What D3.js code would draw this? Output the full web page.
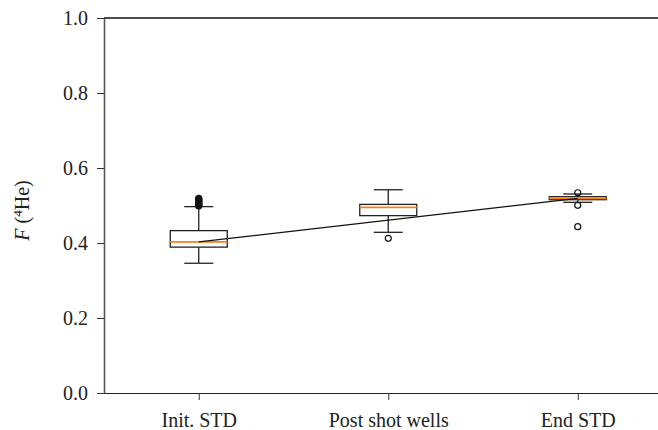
<!DOCTYPE html>
<html>
<head>
<meta charset="utf-8">
<script src="https://cdn.jsdelivr.net/npm/d3@7"></script>
<style>
  body { margin: 0; background: #fff; }
  text { font-family: "Liberation Serif", "DejaVu Serif", serif; }
</style>
</head>
<body>
<div id="chart-area"></div>
<script>
// groups on the x axis
const groups = ["Init. STD", "Post shot wells", "End STD"]
// box stats
const q1 = [0.389, 0.473, 0.5155]
const medians = [0.403, 0.495, 0.519]
const q3 = [0.433, 0.503, 0.5235]
const whiskLow = [0.346, 0.4285, 0.5085]
const whiskHigh = [0.497, 0.542, 0.5307]
const fliers = [
  [0.499, 0.501, 0.503, 0.505, 0.507, 0.509, 0.511, 0.513, 0.515, 0.517, 0.519],
  [0.4125],
  [0.534, 0.5005, 0.4435]
]
// trend line between first and last group
const trendGroups = ["Init. STD", "End STD"]
const trendValues = [0.403, 0.519]
const yTicks = [0, 0.2, 0.4, 0.6, 0.8, 1.0]

const W = 658, H = 430
const margin = { top: 18, right: 0, bottom: 37, left: 104 }
const width = W - margin.left - margin.right,
      height = H - margin.top - margin.bottom

const svg = d3.select("#chart-area").append("svg")
    .attr("width", W)
    .attr("height", H)

const g = svg.append("g")
    .attr("transform", "translate(" + margin.left + "," + margin.top + ")")

// x limits 0.5..3.5 in group units, picture is cut on the right
const step = 189.5
const x = d3.scalePoint()
    .domain(groups)
    .range([step / 2, step * 2.5])

const y = d3.scaleLinear()
    .domain([0, 1])
    .range([height, 0])

// axes
const xAxis = g.append("g")
    .attr("transform", "translate(0," + height + ")")
    .call(d3.axisBottom(x).tickSize(7).tickSizeOuter(0))
xAxis.select(".domain").attr("stroke", "#222").attr("stroke-width", 1.2)
    .attr("d", "M0,0.5H" + width)
xAxis.selectAll(".tick line").attr("stroke", "#333")
xAxis.selectAll(".tick text")
    .attr("font-size", "20px")
    .attr("fill", "#222")
    .attr("y", 20)
    .attr("dy", "0.71em")

const yAxis = g.append("g")
    .call(d3.axisLeft(y).tickValues(yTicks).tickFormat(d3.format(".1f")).tickSize(7).tickSizeOuter(0))
yAxis.select(".domain").attr("stroke", "#555").attr("stroke-width", 1.6)
yAxis.selectAll(".tick line").attr("stroke", "#333")
yAxis.selectAll(".tick text")
    .attr("font-size", "20px")
    .attr("fill", "#222")
    .attr("x", -16)

// top spine
g.append("line")
    .attr("x1", 0).attr("x2", width)
    .attr("y1", 0).attr("y2", 0)
    .attr("stroke", "#111")
    .attr("stroke-width", 1.3)

// y label
const yl = g.append("text")
    .attr("transform", "translate(" + (29 - margin.left) + "," + (height / 2 + 5) + ") rotate(-90)")
    .attr("text-anchor", "middle")
    .attr("font-size", "20px")
    .attr("fill", "#222")
yl.append("tspan").attr("font-style", "italic").text("F")
yl.append("tspan").text(" (")
yl.append("tspan").attr("font-size", "13px").attr("dy", "-7").text("4")
yl.append("tspan").attr("dy", "7").text("He)")

// boxes
const boxW = 57, capW = 29
const boxes = g.selectAll(".box")
    .data(groups)
    .enter().append("g")
    .attr("class", "box")

boxes.append("line")
    .attr("x1", d => x(d)).attr("x2", d => x(d))
    .attr("y1", (d, i) => y(whiskLow[i])).attr("y2", (d, i) => y(q1[i]))
    .attr("stroke", "#222").attr("stroke-width", 1.3)
boxes.append("line")
    .attr("x1", d => x(d)).attr("x2", d => x(d))
    .attr("y1", (d, i) => y(whiskHigh[i])).attr("y2", (d, i) => y(q3[i]))
    .attr("stroke", "#222").attr("stroke-width", 1.3)
boxes.append("line")
    .attr("x1", d => x(d) - capW / 2).attr("x2", d => x(d) + capW / 2)
    .attr("y1", (d, i) => y(whiskLow[i])).attr("y2", (d, i) => y(whiskLow[i]))
    .attr("stroke", "#222").attr("stroke-width", 1.3)
boxes.append("line")
    .attr("x1", d => x(d) - capW / 2).attr("x2", d => x(d) + capW / 2)
    .attr("y1", (d, i) => y(whiskHigh[i])).attr("y2", (d, i) => y(whiskHigh[i]))
    .attr("stroke", "#222").attr("stroke-width", 1.3)
boxes.append("rect")
    .attr("x", d => x(d) - boxW / 2)
    .attr("width", boxW)
    .attr("y", (d, i) => y(q3[i]))
    .attr("height", (d, i) => y(q1[i]) - y(q3[i]))
    .attr("fill", "#fff")
    .attr("stroke", "#222").attr("stroke-width", 1.3)
boxes.append("line")
    .attr("x1", d => x(d) - boxW / 2).attr("x2", d => x(d) + boxW / 2)
    .attr("y1", (d, i) => y(medians[i])).attr("y2", (d, i) => y(medians[i]))
    .attr("stroke", "#ff7f0e").attr("stroke-width", 1.6)

// outliers
groups.forEach(function(grp, i){
    g.selectAll(".flier-" + i)
        .data(fliers[i])
        .enter().append("circle")
        .attr("cx", x(grp))
        .attr("cy", d => y(d))
        .attr("r", 3)
        .attr("fill", "none")
        .attr("stroke", "#111")
        .attr("stroke-width", 1.2)
})

// trend line
g.append("path")
    .datum(trendValues)
    .attr("fill", "none")
    .attr("stroke", "#111")
    .attr("stroke-width", 1.2)
    .attr("d", d3.line()
        .x((d, i) => x(trendGroups[i]))
        .y(d => y(d)))
</script>
</body>
</html>
